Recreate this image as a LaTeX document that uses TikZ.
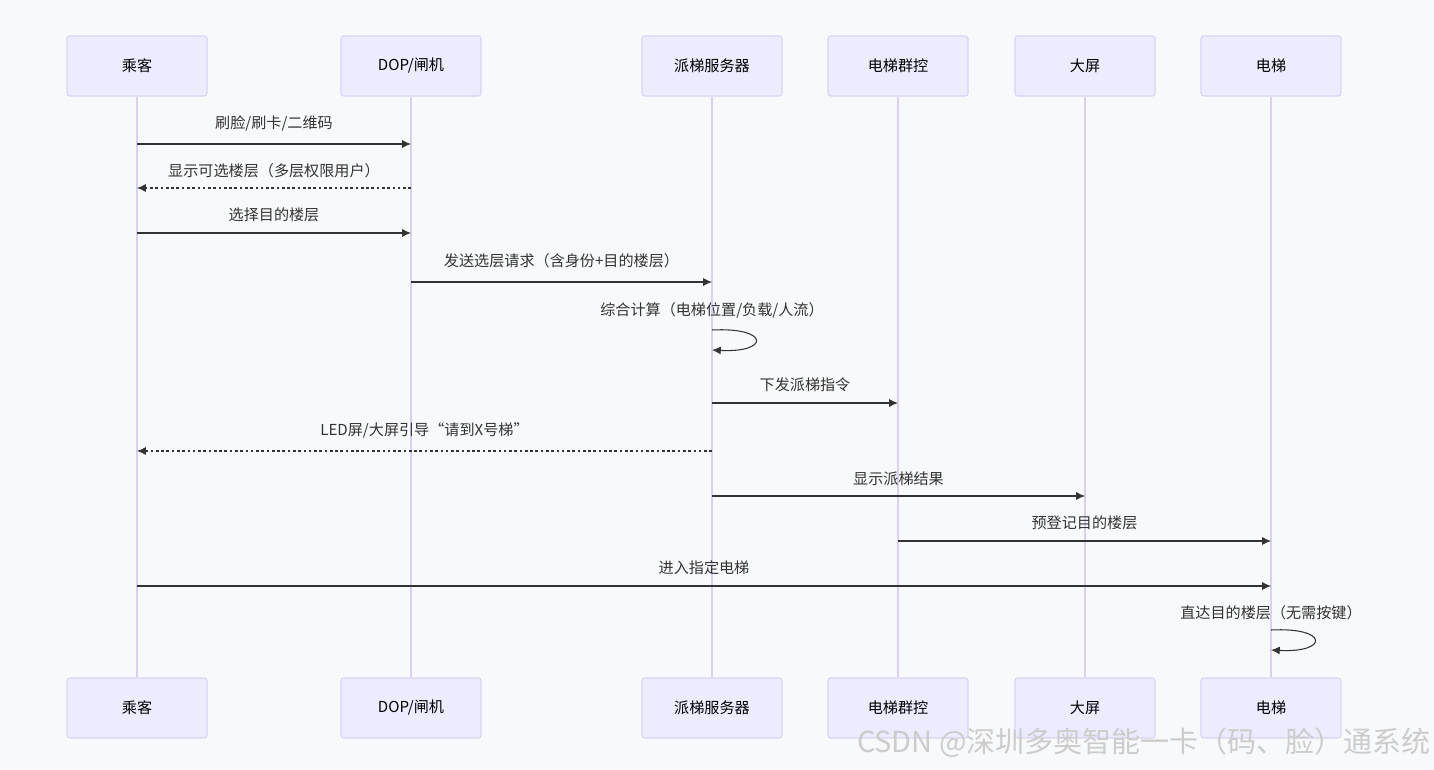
\documentclass[tikz,border=0pt]{standalone}
\usepackage{fontspec}
\setmainfont{Noto Sans CJK SC}
\usepackage{tikz}
\usetikzlibrary{arrows.meta,positioning,calc}
\definecolor{bgpage}{HTML}{F8F9FB}
\definecolor{actfill}{HTML}{ECECFF}
\definecolor{actdraw}{HTML}{D9D2F5}
\definecolor{lifeline}{HTML}{D9D0F4}
\definecolor{msgline}{HTML}{333333}
\tikzstyle{actor}=[draw=actdraw, fill=actfill, line width=0.6pt, minimum width=2.8cm,
minimum height=1.2cm, rounded corners=1.5pt, text=black, font=\fontsize{8.6}{10}\selectfont]
\tikzstyle{life}=[draw=lifeline, line width=1pt]
\tikzstyle{msg}=[draw=msgline, line width=0.6pt, -{Latex[length=5pt,width=4.5pt]}]
\tikzstyle{reply}=[msg, dash pattern=on 1.5pt off 1.5pt]
\tikzstyle{lbl}=[text=msgline, inner sep=0pt, font=\fontsize{8.6}{10}\selectfont]
\newcommand{\actorbox}[2]{node (a#1)[actor]{#2}}
\newcommand{\actorfoot}[2]{node (b#1)[actor]{#2}}

\begin{document}
\begin{tikzpicture}[x=0.02cm,y=-0.02cm]
	\fill[bgpage] (0,0) rectangle (1434,770);
	\useasboundingbox (0,0) rectangle (1434,770);

	% Participants (top and bottom)
	\path (137,66) \actorbox{1}{乘客};
	\path (411,66) \actorbox{2}{DOP/闸机};
	\path (712,66) \actorbox{3}{派梯服务器};
	\path (898,66) \actorbox{4}{电梯群控};
	\path (1085,66) \actorbox{5}{大屏};
	\path (1271,66) \actorbox{6}{电梯};

	\path (137,708) \actorfoot{1}{乘客};
	\path (411,708) \actorfoot{2}{DOP/闸机};
	\path (712,708) \actorfoot{3}{派梯服务器};
	\path (898,708) \actorfoot{4}{电梯群控};
	\path (1085,708) \actorfoot{5}{大屏};
	\path (1271,708) \actorfoot{6}{电梯};

	% Lifelines
	\foreach \i in {1,...,6}
		\path[life] (a\i.south) -- (b\i.north);

	% Message rows
	\coordinate (m1) at (0,144);
	\coordinate (m2) at (0,188);
	\coordinate (m3) at (0,233);
	\coordinate (m4) at (0,282);
	\coordinate (l1a) at (0,330);
	\coordinate (l1b) at (0,350);
	\coordinate (m6) at (0,403);
	\coordinate (m7) at (0,451);
	\coordinate (m8) at (0,496);
	\coordinate (m9) at (0,541);
	\coordinate (m10) at (0,586);
	\coordinate (l2a) at (0,630);
	\coordinate (l2b) at (0,650);

	% Messages
	\path[msg] (a1 |- m1) -- node[lbl, yshift=0.42cm] {刷脸/刷卡/二维码} (a2 |- m1);
	\path[reply] (a2 |- m2) -- node[lbl, yshift=0.34cm] {显示可选楼层（多层权限用户）} (a1 |- m2);
	\path[msg] (a1 |- m3) -- node[lbl, yshift=0.36cm] {选择目的楼层} (a2 |- m3);
	\path[msg] (a2 |- m4) -- node[lbl, yshift=0.42cm] {发送选层请求（含身份+目的楼层）} (a3 |- m4);
	\path (a3 |- l1a) node[lbl, yshift=0.40cm] {综合计算（电梯位置/负载/人流）};
	\path[msg] (a3 |- l1a) .. controls +(58,-3) and +(58,3) .. (a3 |- l1b);
	\path[msg] (a3 |- m6) -- node[lbl, yshift=0.36cm] {下发派梯指令} (a4 |- m6);
	\path[reply] (a3 |- m7) -- node[lbl, yshift=0.42cm] {LED屏/大屏引导“请到X号梯”} (a1 |- m7);
	\path[msg] (a3 |- m8) -- node[lbl, yshift=0.34cm] {显示派梯结果} (a5 |- m8);
	\path[msg] (a4 |- m9) -- node[lbl, yshift=0.36cm] {预登记目的楼层} (a6 |- m9);
	\path[msg] (a1 |- m10) -- node[lbl, yshift=0.36cm] {进入指定电梯} (a6 |- m10);
	\path (a6 |- l2a) node[lbl, yshift=0.34cm] {直达目的楼层（无需按键）};
	\path[msg] (a6 |- l2a) .. controls +(58,-3) and +(58,3) .. (a6 |- l2b);

	% Watermark
	\node (wm) [anchor=east, text=gray!40, inner sep=0pt, font=\fontsize{16.5}{18}\selectfont]
		at (1431,743) {CSDN @深圳多奥智能一卡（码、脸）通系统};
\end{tikzpicture}
\end{document}
